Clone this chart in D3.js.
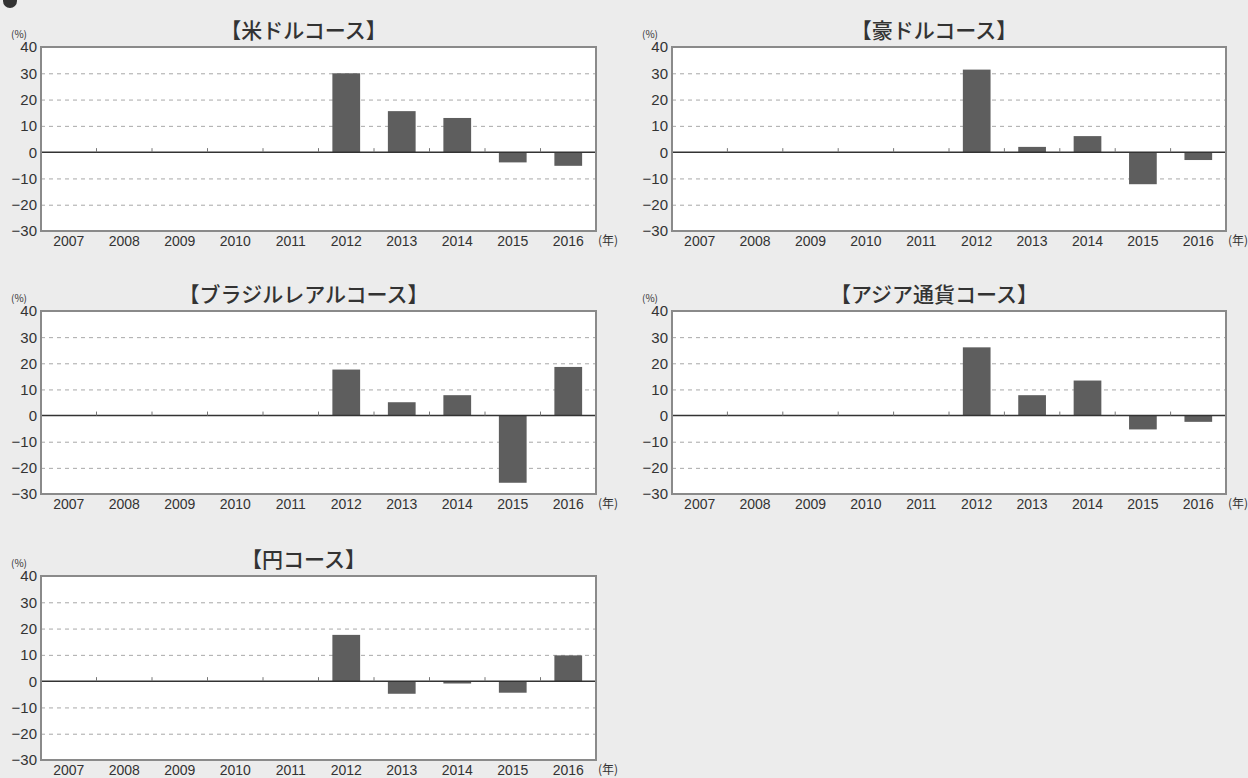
<html>
<head>
  <meta charset="utf-8">
  <script src="https://d3js.org/d3.v7.min.js"></script>
  <style>
    body { margin: 0; background: #ececec; }
    text { font-family: "Noto Sans CJK JP", "Liberation Sans", sans-serif; fill: #333; }
    text.num { font-family: "Liberation Sans", Arial, sans-serif; }
    .gridlines line { stroke: #a8a8a8; stroke-dasharray: 4 4; }
    .gridlines .domain { stroke: none; }
  </style>
</head>
<body>
  <svg id="chart" width="1248" height="778"></svg>
  <script>
    // data
    const years = ["2007", "2008", "2009", "2010", "2011", "2012", "2013", "2014", "2015", "2016"];
    const yTicks = [40, 30, 20, 10, 0, -10, -20, -30];
    const titles = ["【米ドルコース】", "【豪ドルコース】", "【ブラジルレアルコース】", "【アジア通貨コース】", "【円コース】"];
    const usd = [null, null, null, null, null, 30.0, 15.6, 13.0, -3.9, -5.2];
    const aud = [null, null, null, null, null, 31.4, 2.0, 6.1, -12.2, -3.0];
    const brl = [null, null, null, null, null, 17.6, 5.1, 7.8, -25.7, 18.6];
    const asia = [null, null, null, null, null, 26.1, 7.8, 13.4, -5.3, -2.4];
    const jpy = [null, null, null, null, null, 17.6, -4.8, -0.9, -4.4, 9.8];
    const series = [usd, aud, brl, asia, jpy];

    const svg = d3.select("svg#chart");

    // plot boxes (left, right, top, bottom)
    const boxes = [
      { l: 41, r: 596, t: 47, b: 231 },
      { l: 672, r: 1226, t: 47, b: 231 },
      { l: 41, r: 596, t: 311, b: 494 },
      { l: 672, r: 1226, t: 311, b: 494 },
      { l: 41, r: 596, t: 576, b: 760 }
    ];

    // cropped header mark at the very top
    svg.append("circle").attr("cx", 10).attr("cy", 1).attr("r", 7).attr("fill", "#333");

    boxes.forEach((box, i) => {
      const g = svg.append("g");
      const x = d3.scaleBand().domain(years).range([box.l, box.r]).paddingInner(0.5).paddingOuter(0.25);
      const y = d3.scaleLinear().domain([-30, 40]).range([box.b, box.t]);

      g.append("rect")
        .attr("x", box.l).attr("y", box.t)
        .attr("width", box.r - box.l).attr("height", box.b - box.t)
        .attr("fill", "#fff");

      // dashed gridlines
      const grid = d3.axisLeft(y).tickValues([30, 20, 10, -10, -20]).tickSize(-(box.r - box.l)).tickFormat("");
      g.append("g").attr("class", "gridlines")
        .attr("transform", `translate(${box.l},0)`)
        .call(grid);

      // bars
      g.selectAll("rect.bar").data(series[i].map((v, j) => ({ year: years[j], v: v })).filter(d => d.v !== null))
        .join("rect")
        .attr("class", "bar")
        .attr("fill", "#5e5e5e")
        .attr("x", d => x(d.year))
        .attr("width", x.bandwidth())
        .attr("y", d => y(Math.max(0, d.v)))
        .attr("height", d => Math.abs(y(d.v) - y(0)));

      // zero line with small ticks between years
      g.append("line")
        .attr("x1", box.l).attr("x2", box.r)
        .attr("y1", y(0)).attr("y2", y(0))
        .attr("stroke", "#333").attr("stroke-width", 1.5);
      g.selectAll("line.tick0").data(years.slice(1))
        .join("line")
        .attr("class", "tick0")
        .attr("x1", d => x(d) - x.step() * 0.25).attr("x2", d => x(d) - x.step() * 0.25)
        .attr("y1", y(0)).attr("y2", y(0) - 4)
        .attr("stroke", "#777").attr("stroke-width", 1);

      // frame
      g.append("rect")
        .attr("x", box.l).attr("y", box.t)
        .attr("width", box.r - box.l).attr("height", box.b - box.t)
        .attr("fill", "none").attr("stroke", "#8a8a8a").attr("stroke-width", 2);

      // y labels
      g.selectAll("text.ylab").data(yTicks)
        .join("text")
        .attr("class", "ylab num")
        .attr("x", box.l - 4)
        .attr("y", d => y(d))
        .attr("dy", "0.36em")
        .attr("text-anchor", "end")
        .attr("font-size", 15)
        .text(d => d < 0 ? "\u2212" + Math.abs(d) : d);

      g.append("text")
        .attr("x", box.l - 22).attr("y", box.t - 9)
        .attr("text-anchor", "middle")
        .attr("font-size", 10)
        .attr("fill", "#666")
        .text("(%)");

      // x labels
      g.selectAll("text.xlab").data(years)
        .join("text")
        .attr("class", "xlab num")
        .attr("x", d => x(d) + x.bandwidth() / 2)
        .attr("y", box.b + 10)
        .attr("dy", "0.36em")
        .attr("text-anchor", "middle")
        .attr("font-size", 14)
        .text(d => d);

      g.append("text")
        .attr("x", box.r + 2).attr("y", box.b + 10)
        .attr("dy", "0.36em")
        .attr("font-size", 12)
        .text("(年)");

      // title
      g.append("text")
        .attr("x", (box.l + box.r) / 2 - 15)
        .attr("y", box.t - 9)
        .attr("text-anchor", "middle")
        .attr("font-size", 21)
        .attr("font-weight", 500)
        .attr("fill", "#222")
        .text(titles[i]);
    });
  </script>
</body>
</html>
